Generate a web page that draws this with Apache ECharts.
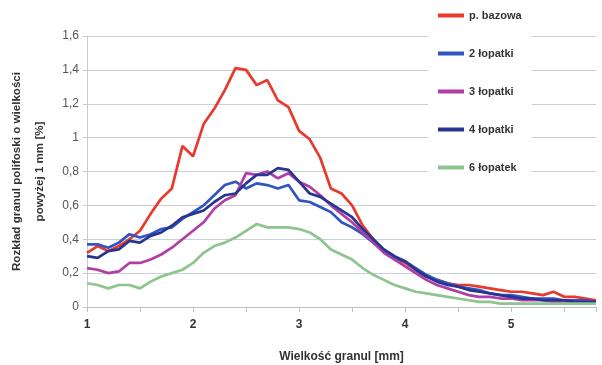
<!DOCTYPE html>
<html>
<head>
<meta charset="utf-8">
<script src="https://cdn.jsdelivr.net/npm/echarts@6/dist/echarts.min.js"></script>
<style>
  html, body { margin: 0; padding: 0; background: #fff; }
  #main { width: 602px; height: 365px; }
</style>
</head>
<body>
<div id="main"></div>
<script>
// wielkość granul [mm], krok 0,1
var sizes = [1.0, 1.1, 1.2, 1.3, 1.4, 1.5, 1.6, 1.7, 1.8, 1.9,
    2.0, 2.1, 2.2, 2.3, 2.4, 2.5, 2.6, 2.7, 2.8, 2.9,
    3.0, 3.1, 3.2, 3.3, 3.4, 3.5, 3.6, 3.7, 3.8, 3.9,
    4.0, 4.1, 4.2, 4.3, 4.4, 4.5, 4.6, 4.7, 4.8, 4.9,
    5.0, 5.1, 5.2, 5.3, 5.4, 5.5, 5.6, 5.7, 5.8];

var bazowa = [0.32, 0.36, 0.33, 0.36, 0.40, 0.45, 0.55, 0.64, 0.70, 0.95,
    0.89, 1.08, 1.17, 1.28, 1.41, 1.40, 1.31, 1.34, 1.22, 1.18,
    1.04, 0.99, 0.88, 0.70, 0.67, 0.60, 0.48, 0.40, 0.33, 0.29,
    0.26, 0.22, 0.18, 0.16, 0.14, 0.13, 0.13, 0.12, 0.11, 0.10,
    0.09, 0.09, 0.08, 0.07, 0.09, 0.06, 0.06, 0.05, 0.04];

var lopatki2 = [0.37, 0.37, 0.35, 0.38, 0.43, 0.41, 0.43, 0.46, 0.47, 0.52,
    0.56, 0.60, 0.66, 0.72, 0.74, 0.70, 0.73, 0.72, 0.70, 0.72,
    0.63, 0.62, 0.59, 0.56, 0.50, 0.47, 0.43, 0.38, 0.33, 0.29,
    0.27, 0.23, 0.19, 0.16, 0.14, 0.12, 0.11, 0.10, 0.08, 0.07,
    0.07, 0.06, 0.05, 0.05, 0.05, 0.04, 0.04, 0.04, 0.03];

var lopatki3 = [0.23, 0.22, 0.20, 0.21, 0.26, 0.26, 0.28, 0.31, 0.35, 0.40,
    0.45, 0.50, 0.58, 0.63, 0.66, 0.79, 0.78, 0.80, 0.76, 0.79,
    0.74, 0.71, 0.66, 0.60, 0.55, 0.50, 0.44, 0.38, 0.32, 0.28,
    0.24, 0.20, 0.16, 0.13, 0.11, 0.09, 0.07, 0.06, 0.06, 0.05,
    0.05, 0.04, 0.04, 0.04, 0.03, 0.03, 0.03, 0.03, 0.03];

var lopatki4 = [0.30, 0.29, 0.33, 0.34, 0.39, 0.38, 0.42, 0.44, 0.48, 0.53,
    0.55, 0.57, 0.62, 0.66, 0.67, 0.73, 0.78, 0.78, 0.82, 0.81,
    0.74, 0.67, 0.65, 0.61, 0.57, 0.53, 0.46, 0.40, 0.34, 0.30,
    0.27, 0.22, 0.18, 0.15, 0.13, 0.12, 0.10, 0.09, 0.08, 0.07,
    0.06, 0.05, 0.05, 0.04, 0.04, 0.04, 0.03, 0.03, 0.03];

var lopatek6 = [0.14, 0.13, 0.11, 0.13, 0.13, 0.11, 0.15, 0.18, 0.20, 0.22,
    0.26, 0.32, 0.36, 0.38, 0.41, 0.45, 0.49, 0.47, 0.47, 0.47,
    0.46, 0.44, 0.40, 0.34, 0.31, 0.28, 0.23, 0.19, 0.16, 0.13,
    0.11, 0.09, 0.08, 0.07, 0.06, 0.05, 0.04, 0.03, 0.03, 0.02,
    0.02, 0.02, 0.02, 0.02, 0.02, 0.02, 0.02, 0.02, 0.02];

var names = ['p. bazowa', '2 łopatki', '3 łopatki', '4 łopatki', '6 łopatek'];
var colors = ['#e8392c', '#2f55c0', '#b13da6', '#283590', '#8ec48e'];
var values = [bazowa, lopatki2, lopatki3, lopatki4, lopatek6];

function pairs(ys) {
    return sizes.map(function (x, i) { return [x, ys[i]]; });
}

var font = 'Liberation Sans, Arial, sans-serif';

var chart = echarts.init(document.getElementById('main'));
chart.setOption({
    animation: false,
    textStyle: { fontFamily: font },
    grid: { left: 87, right: 6, top: 36, bottom: 58, outerBoundsMode: 'none', containLabel: false },
    legend: {
        orient: 'vertical',
        left: 428,
        top: 4,
        width: 110,
        itemWidth: 26,
        itemHeight: 4,
        itemGap: 27,
        padding: [6, 10, 8, 10],
        backgroundColor: '#fff',
        icon: 'rect',
        textStyle: { fontFamily: font, fontSize: 11, fontWeight: 'bold', color: '#333' },
        data: names
    },
    xAxis: {
        type: 'value',
        min: 1,
        max: 5.8,
        interval: 1,
        name: 'Wielkość granul [mm]',
        nameLocation: 'middle',
        nameGap: 44,
        nameTextStyle: { fontFamily: font, fontSize: 12, fontWeight: 'bold', color: '#333' },
        axisLine: { lineStyle: { color: '#b8c0c8', width: 1 } },
        axisTick: { show: true, length: 5, lineStyle: { color: '#b8c0c8' } },
        minorTick: { show: true, splitNumber: 2, length: 5, lineStyle: { color: '#b8c0c8' } },
        splitLine: { show: false },
        axisLabel: { showMaxLabel: false, margin: 12, fontSize: 12, fontWeight: 'bold', color: '#333' }
    },
    yAxis: {
        type: 'value',
        min: 0,
        max: 1.6,
        interval: 0.2,
        name: 'Rozkład granul polifoski o wielkości\npowyżej 1 mm [%]',
        nameLocation: 'middle',
        nameGap: 31,
        nameTextStyle: { fontFamily: font, fontSize: 11.6, fontWeight: 'bold', color: '#333', lineHeight: 23 },
        axisLine: { show: true, lineStyle: { color: '#c4ccd4' } },
        axisTick: { show: true, length: 4, lineStyle: { color: '#c4ccd4' } },
        splitLine: { lineStyle: { color: '#c8d0d8', width: 1 } },
        axisLabel: {
            margin: 8,
            fontSize: 12,
            color: '#555',
            formatter: function (v) { return String(Math.round(v * 10) / 10).replace('.', ','); }
        }
    },
    series: names.map(function (n, i) {
        return {
            name: n,
            type: 'line',
            data: pairs(values[i]),
            showSymbol: false,
            symbol: 'none',
            color: colors[i],
            lineStyle: { width: 2.7, color: colors[i] },
            z: i === 0 ? 1 : 2
        };
    })
});
</script>
</body>
</html>
